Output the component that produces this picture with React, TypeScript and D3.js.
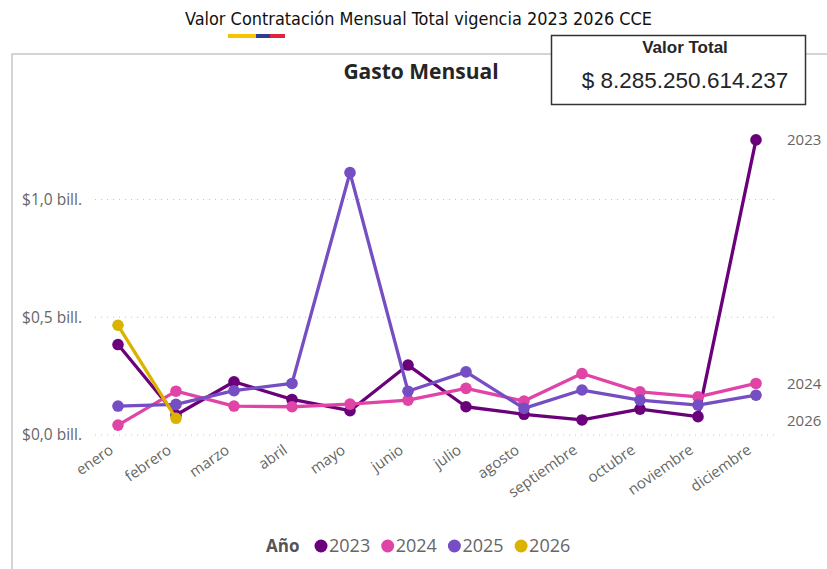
import {line, scaleLinear, scalePoint} from "d3";

const MONTHS = [
  "enero",
  "febrero",
  "marzo",
  "abril",
  "mayo",
  "junio",
  "julio",
  "agosto",
  "septiembre",
  "octubre",
  "noviembre",
  "diciembre"
];

// values in billones de pesos
const Y2023 = [0.384, 0.085, 0.226, 0.151, 0.103, 0.297, 0.12, 0.088, 0.064, 0.11, 0.078, 1.253];
const Y2024 = [0.042, 0.186, 0.123, 0.12, 0.131, 0.148, 0.198, 0.144, 0.261, 0.183, 0.162, 0.219];
const Y2025 = [0.123, 0.13, 0.188, 0.219, 1.114, 0.186, 0.268, 0.113, 0.191, 0.148, 0.127, 0.169];
const Y2026 = [0.466, 0.071];

const Y_TICKS = [0, 0.5, 1.0];
const Y_TICK_LABELS = ["$0,0 bill.", "$0,5 bill.", "$1,0 bill."];

const SERIES = [
  {year: "2023", values: Y2023, color: "#6B007B"},
  {year: "2024", values: Y2024, color: "#E044A7"},
  {year: "2025", values: Y2025, color: "#744EC2"},
  {year: "2026", values: Y2026, color: "#D9B300"}
];

// end labels shown at the right (2025 hidden in the original because of overlap)
const END_LABELS = ["2023", "2024", "2026"];

const TITLE = "Valor Contratación Mensual Total vigencia 2023 2026 CCE";
const TOTAL = "$ 8.285.250.614.237";

const FONT = "'Segoe UI', 'Open Sans', 'Noto Sans', sans-serif";
const ARIAL = "'Liberation Sans', Arial, sans-serif";

export default function App() {
  const width = 827;
  const height = 569;

  const x = scalePoint<string>().domain(MONTHS).range([118, 756]);
  const y = scaleLinear().domain([0, 1]).range([435, 199.5]);

  const lineGen = line<number>()
    .x((_, i) => x(MONTHS[i]) ?? 0)
    .y((v) => y(v));

  const endLabelY = (year: string) => {
    if (year === "2026") return y(0.06);
    const s = SERIES.find((d) => d.year === year)!;
    return y(s.values[s.values.length - 1]);
  };

  return (
    <svg
      width={width}
      height={height}
      style={{position: "absolute", left: 0, top: 0, display: "block", fontFamily: FONT}}
    >
      <rect width={width} height={height} fill="#fff" />

      {/* page title */}
      <text
        x={418.5}
        y={25}
        textAnchor="middle"
        fontSize={17}
        textLength={467}
        lengthAdjust="spacingAndGlyphs"
        fill="#111"
        style={{fontFamily: "'DejaVu Sans Condensed', 'Roboto', sans-serif"}}
      >
        {TITLE}
      </text>
      <rect x={228} y={34} width={28} height={4} fill="#F7C300" />
      <rect x={256} y={34} width={14} height={4} fill="#2E3D8F" />
      <rect x={270} y={34} width={15} height={4} fill="#E2233F" />

      {/* visual panel */}
      <path d={`M12,${height} V54 H${width}`} fill="none" stroke="#c8c8c8" strokeWidth={1.5} />

      <text x={421} y={79} textAnchor="middle" fontSize={21} fontWeight={700} fill="#252525">
        Gasto Mensual
      </text>

      {/* grid + y labels */}
      {Y_TICKS.map((t, i) => (
        <g key={t}>
          <line
            x1={95}
            x2={778}
            y1={y(t)}
            y2={y(t)}
            stroke="#c4c4c4"
            strokeWidth={1}
            strokeDasharray="1 5"
          />
          <text x={82} y={y(t)} dy="0.35em" textAnchor="end" fontSize={15.5} fill="#666">
            {Y_TICK_LABELS[i]}
          </text>
        </g>
      ))}

      {/* x labels */}
      {MONTHS.map((m) => (
        <text
          key={m}
          transform={`translate(${(x(m) ?? 0) - 10},${443}) rotate(-35)`}
          dy="0.75em"
          textAnchor="end"
          fontSize={15}
          fill="#666"
        >
          {m}
        </text>
      ))}

      {/* series */}
      {SERIES.map((s) => (
        <g key={s.year}>
          <path d={lineGen(s.values) ?? ""} fill="none" stroke={s.color} strokeWidth={3.3} strokeLinejoin="round" />
          {s.values.map((v, i) => (
            <circle key={i} cx={x(MONTHS[i])} cy={y(v)} r={5.8} fill={s.color} />
          ))}
        </g>
      ))}

      {/* end labels */}
      {END_LABELS.map((yr) => (
        <text key={yr} x={787} y={endLabelY(yr)} dy="0.35em" fontSize={15} fill="#666">
          {yr}
        </text>
      ))}

      {/* legend */}
      <g transform="translate(0,546)">
        <text x={266} dy="0.35em" fontSize={17} fontWeight={700} fill="#555">
          Año
        </text>
        {SERIES.map((s, i) => (
          <g key={s.year} transform={`translate(${321 + i * 66.7},0)`}>
            <circle r={6.5} fill={s.color} />
            <text x={8} dy="0.35em" fontSize={18} fill="#666">
              {s.year}
            </text>
          </g>
        ))}
      </g>

      {/* total card */}
      <rect x={551.5} y={35.5} width={254} height={69} fill="#fff" stroke="#333" strokeWidth={1.5} />
      <text x={685} y={53} textAnchor="middle" fontSize={17} fontWeight={700} fill="#252525" style={{fontFamily: ARIAL}}>
        Valor Total
      </text>
      <text x={685} y={88} textAnchor="middle" fontSize={22.5} fill="#252525" style={{fontFamily: ARIAL}}>
        {TOTAL}
      </text>
    </svg>
  );
}
